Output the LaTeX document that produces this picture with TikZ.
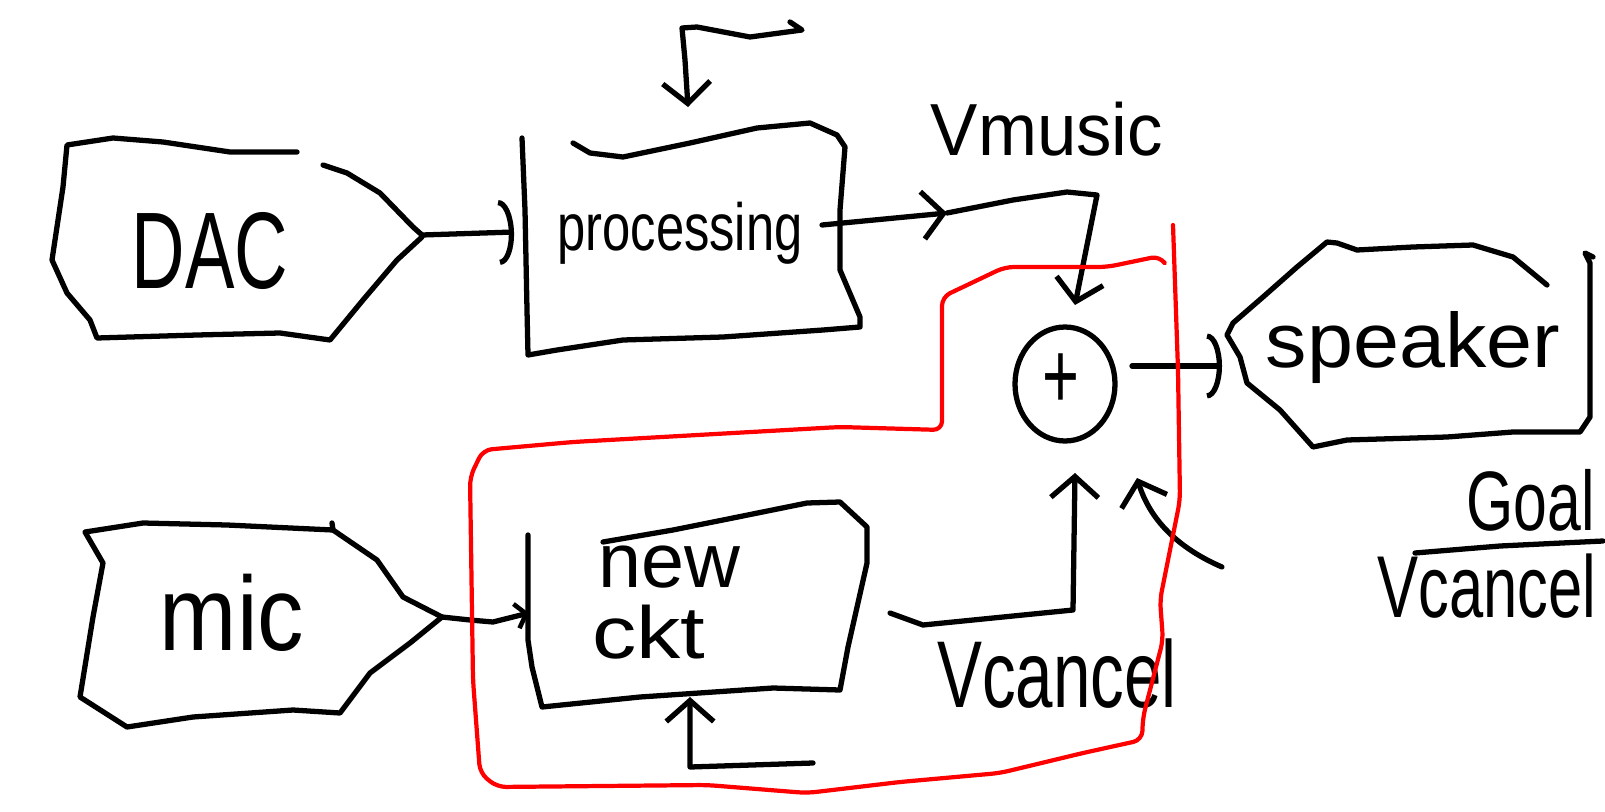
\documentclass[tikz,border=0pt]{standalone}
\usepackage{fontspec}
\setmainfont{Liberation Sans}
\usetikzlibrary{arrows.meta,shapes.geometric}

\newcommand{\fsz}[1]{\fontsize{#1}{#1}\selectfont}

\begin{document}
\begin{tikzpicture}[x=0.02cm,y=-0.02cm,line cap=round,line join=round,
  ink/.style={draw=black,line width=3pt},
  redink/.style={draw=red,line width=2.4pt},
  barb/.style={-{Straight Barb[length=0.42cm,width=0.95cm,line width=3pt]}},
  smallbarb/.style={-{Straight Barb[length=0.2cm,width=0.5cm,line width=2.6pt]}},
  arcbarb/.style={-{Arc Barb[length=0.3cm,width=1.3cm,line width=3pt]}},
  lbl/.style={inner sep=0pt,anchor=base}]

% canvas
\useasboundingbox (0,0) rectangle (1605,811);
\fill[white] (0,0) rectangle (1605,811);

% ---------------- DAC block ----------------
\draw[ink] (297,152) -- (230,152) -- (163,142) -- (113,138) -- (67,145)
  -- (63,187) -- (52,260) -- (67,293) -- (90,320) -- (97,338)
  -- (197,335) -- (280,333) -- (330,340) -- (363,300) -- (397,260) -- (422,237);
\draw[ink] (323,165) -- (347,173) -- (380,193) -- (413,227) -- (422,235);
\node[lbl,font=\fsz{62},xscale=0.68] (dac) at (210,288) {DAC};
\coordinate (dacOut) at (422,235);

% ---------------- processing block ----------------
\draw[ink] (522,138) -- (525,210) -- (527,310) -- (528,355)
  -- (557,350) -- (623,340) -- (723,337) -- (823,330) -- (860,327)
  -- (860,317) -- (840,270) -- (840,210) -- (845,147) -- (837,135)
  -- (810,123) -- (757,128) -- (690,143) -- (623,157) -- (590,153) -- (573,143);
\node[lbl,font=\fsz{38},xscale=0.76] (proc) at (680,250) {processing};
\coordinate (procIn) at (514,232);
\coordinate (procOut) at (822,225);

% volume knob arrow above processing
\coordinate (knobA) at (790,22);
\coordinate (knobB) at (688,107);
\draw[ink,barb] (knobA) -- (802,30) -- (750,37) -- (697,27) -- (682,28) -- (685,60) -- (knobB);

% ---------------- summing junction ----------------
\node[ellipse,ink,minimum width=2cm,minimum height=2.28cm,inner sep=0pt] (sum) at (1065,384) {};
\node[font=\fsz{36},inner sep=0pt,yscale=1.5] (plus) at (1061,381) {+};
\coordinate (sumTop) at (1075,305);
\coordinate (sumBot) at (1075,473);
\coordinate (sumOut) at (1132,366);

% V_music path into the junction
\coordinate (vmid) at (947,213);
\draw[ink,barb] (procOut) -- (vmid);
\draw[ink,barb] (vmid) -- (1013,200) -- (1067,192) -- (1097,195) -- (sumTop);
\node[lbl,font=\fsz{42},xscale=0.96] (vmusic) at (1047,155) {Vmusic};

% DAC to processing
\draw[ink,arcbarb] (dacOut) -- (procIn);

% ---------------- speaker block ----------------
\draw[ink] (1547,285) -- (1513,257) -- (1473,245) -- (1413,247) -- (1357,250)
  -- (1337,243) -- (1327,242) -- (1297,267) -- (1263,297) -- (1233,323)
  -- (1227,335) -- (1240,357) -- (1247,383) -- (1280,410) -- (1313,447)
  -- (1347,440) -- (1447,437) -- (1513,432) -- (1580,432) -- (1590,417)
  -- (1590,263) -- (1585,253) -- (1593,257);
\node[lbl,font=\fsz{44},xscale=1.07] (spk) at (1413,367) {speaker};
\coordinate (spkIn) at (1222,366);
\draw[ink,arcbarb] (sumOut) -- (spkIn);

% goal written at the right edge
\node[lbl,anchor=base west,font=\fsz{48},xscale=0.72] (goal) at (1466,530) {Goal};
\coordinate (fracL) at (1415,553);
\coordinate (fracR) at (1603,541);
\draw[ink] (fracL) -- (1500,546) -- (fracR);
\node[lbl,anchor=base west,font=\fsz{50},xscale=0.70] (vcR) at (1377,617) {Vcancel};

% ---------------- mic block ----------------
\draw[ink] (332,523) -- (333,530) -- (227,525) -- (143,523) -- (85,532)
  -- (103,563) -- (93,617) -- (80,697) -- (127,727) -- (193,717)
  -- (293,710) -- (340,713) -- (370,673) -- (410,643) -- (442,617);
\draw[ink] (333,530) -- (377,560) -- (403,597) -- (442,617);
\node[lbl,font=\fsz{60},xscale=0.88] (mic) at (232,650) {mic};
\coordinate (micOut) at (442,617);

% ---------------- new ckt block ----------------
\draw[ink] (528,535) -- (528,640) -- (532,667) -- (542,707)
  -- (640,697) -- (773,688) -- (840,690) -- (848,647) -- (867,563)
  -- (867,527) -- (840,502) -- (807,503) -- (723,520) -- (673,530) -- (603,542);
\node[lbl,font=\fsz{44}] (new) at (669,587) {new};
\node[lbl,font=\fsz{42},xscale=1.2] (ckt) at (649,658) {ckt};
\coordinate (cktIn) at (529,613);
\coordinate (cktOut) at (890,613);
\coordinate (cktFb) at (690,697);
\coordinate (fbStart) at (813,763);

\draw[ink,smallbarb] (micOut) -- (470,620) -- (493,622) -- (cktIn);
\draw[ink,barb] (fbStart) -- (690,767) -- (cktFb);
\draw[ink,barb] (cktOut) -- (923,625) -- (1073,610) -- (sumBot);
\node[lbl,font=\fsz{54},xscale=0.71] (vcancel) at (1057,707) {Vcancel};

% external input curving into the junction
\coordinate (extIn) at (1222,567);
\coordinate (extTip) at (1137,478);
\draw[ink,barb] (extIn) .. controls (1178,548) and (1150,520) .. (extTip);

% ---------------- boundary of the new circuit ----------------
\draw[redink,rounded corners=5pt] (1173,225) -- (1178,370) -- (1180,500) -- (1160,600)
  -- (1163,640) -- (1143,717) -- (1142,740) -- (1083,753) -- (1000,773)
  -- (900,782) -- (807,793) -- (707,785) -- (497,787) -- (480,773)
  -- (473,680) -- (470,477) -- (483,450) -- (573,442) -- (840,427)
  -- (942,430) -- (942,297) -- (1005,267) -- (1107,267) -- (1160,256) -- (1164,262);

\end{tikzpicture}
\end{document}
